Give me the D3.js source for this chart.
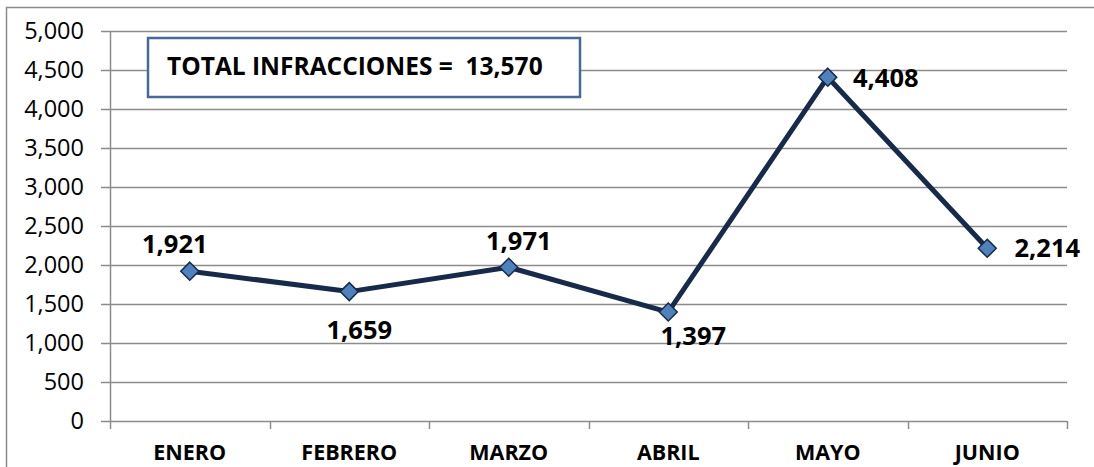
<!DOCTYPE html>
<html>
<head>
<meta charset="utf-8">
<script src="https://cdnjs.cloudflare.com/ajax/libs/d3/7.8.5/d3.min.js"></script>
<style>
  body { margin: 0; background: #fff; }
  text { font-family: "Open Sans", Lato, sans-serif; }
</style>
</head>
<body>
<div id="chart"></div>
<script>
(function() {

  const months = ['ENERO', 'FEBRERO', 'MARZO', 'ABRIL', 'MAYO', 'JUNIO'];
  const infracciones = [1921, 1659, 1971, 1397, 4408, 2214];
  const yTicks = [0, 500, 1000, 1500, 2000, 2500, 3000, 3500, 4000, 4500, 5000];
  const totalLabel = 'TOTAL INFRACCIONES =  13,570';

  // donde va cada etiqueta respecto a su punto (dx, dy)
  const labelOffsets = [[-15, -18], [10, 47], [10, -17], [25, 33], [58, 10], [60, 9]];

  const width = 1094, height = 467;
  const plot = { left: 110, right: 1067, top: 31, bottom: 421 };

  const lineColor = '#172a49';
  const gridColor = '#8c8c8c';
  const fmt = d3.format(',');

  const svg = d3.select('#chart')
    .append('svg')
    .attr('width', width)
    .attr('height', height);

  // marco exterior
  svg.append('rect')
    .attr('x', 6.5)
    .attr('y', 7.5)
    .attr('width', width + 20)
    .attr('height', height + 20)
    .attr('fill', 'none')
    .attr('stroke', '#8c8c8c')
    .attr('stroke-width', 1.5);

  const x = d3.scaleBand()
    .domain(months)
    .range([plot.left, plot.right])
    .padding(0);

  const y = d3.scaleLinear()
    .domain([0, 5000])
    .range([plot.bottom, plot.top]);

  // lineas de grilla + ticks del eje y
  svg.append('g')
    .selectAll('line')
    .data(yTicks)
    .enter()
    .append('line')
      .attr('x1', plot.left - 9)
      .attr('x2', plot.right)
      .attr('y1', d => Math.round(y(d)) + 0.5)
      .attr('y2', d => Math.round(y(d)) + 0.5)
      .attr('stroke', gridColor)
      .attr('stroke-width', 1.5);

  svg.append('g')
    .selectAll('text')
    .data(yTicks)
    .enter()
    .append('text')
      .attr('x', plot.left - 26)
      .attr('y', d => y(d) + 8)
      .attr('text-anchor', 'end')
      .attr('font-size', 23.5)
      .attr('fill', '#000')
      .text(d => fmt(d));

  // eje y
  svg.append('line')
    .attr('x1', plot.left + 0.5)
    .attr('x2', plot.left + 0.5)
    .attr('y1', plot.top)
    .attr('y2', plot.bottom)
    .attr('stroke', gridColor)
    .attr('stroke-width', 1.5);

  // eje x con ticks entre categorias
  const bounds = months.map(m => x(m)).concat([plot.right]);
  svg.append('g')
    .selectAll('line')
    .data(bounds)
    .enter()
    .append('line')
      .attr('x1', d => Math.round(d) + 0.5)
      .attr('x2', d => Math.round(d) + 0.5)
      .attr('y1', plot.bottom)
      .attr('y2', plot.bottom + 8)
      .attr('stroke', gridColor)
      .attr('stroke-width', 1.5);

  svg.append('g')
    .selectAll('text')
    .data(months)
    .enter()
    .append('text')
      .attr('x', d => x(d) + x.bandwidth() / 2)
      .attr('y', 460)
      .attr('text-anchor', 'middle')
      .attr('font-size', 21.5)
      .attr('font-weight', 'bold')
      .attr('fill', '#000')
      .text(d => d);

  // caja del total
  svg.append('rect')
    .attr('x', 148)
    .attr('y', 38)
    .attr('width', 432)
    .attr('height', 59)
    .attr('fill', '#fff')
    .attr('stroke', '#46689a')
    .attr('stroke-width', 2.5);

  svg.append('text')
    .attr('x', 167)
    .attr('y', 75)
    .attr('font-size', 24.5)
    .attr('font-weight', 'bold')
    .attr('fill', '#000')
    .attr('xml:space', 'preserve')
    .style('white-space', 'pre')
    .text(totalLabel);

  const data = months.map((m, i) => ({ month: m, value: infracciones[i], off: labelOffsets[i] }));
  const cx = d => x(d.month) + x.bandwidth() / 2;

  const valueLine = d3.line()
    .x(cx)
    .y(d => y(d.value));

  svg.append('path')
    .datum(data)
    .attr('d', valueLine)
    .attr('fill', 'none')
    .attr('stroke', lineColor)
    .attr('stroke-width', 5)
    .attr('stroke-linejoin', 'round');

  svg.append('g')
    .selectAll('path')
    .data(data)
    .enter()
    .append('path')
      .attr('transform', d => `translate(${cx(d)}, ${y(d.value)})`)
      .attr('d', 'M0,-9L9,0L0,9L-9,0Z')
      .attr('fill', '#4f81bd')
      .attr('stroke', lineColor)
      .attr('stroke-width', 1.5);

  svg.append('g')
    .selectAll('text')
    .data(data)
    .enter()
    .append('text')
      .attr('x', d => cx(d) + d.off[0])
      .attr('y', d => y(d.value) + d.off[1])
      .attr('text-anchor', 'middle')
      .attr('font-size', 25.5)
      .attr('font-weight', 'bold')
      .attr('fill', '#000')
      .text(d => fmt(d.value));
}());
</script>
</body>
</html>
